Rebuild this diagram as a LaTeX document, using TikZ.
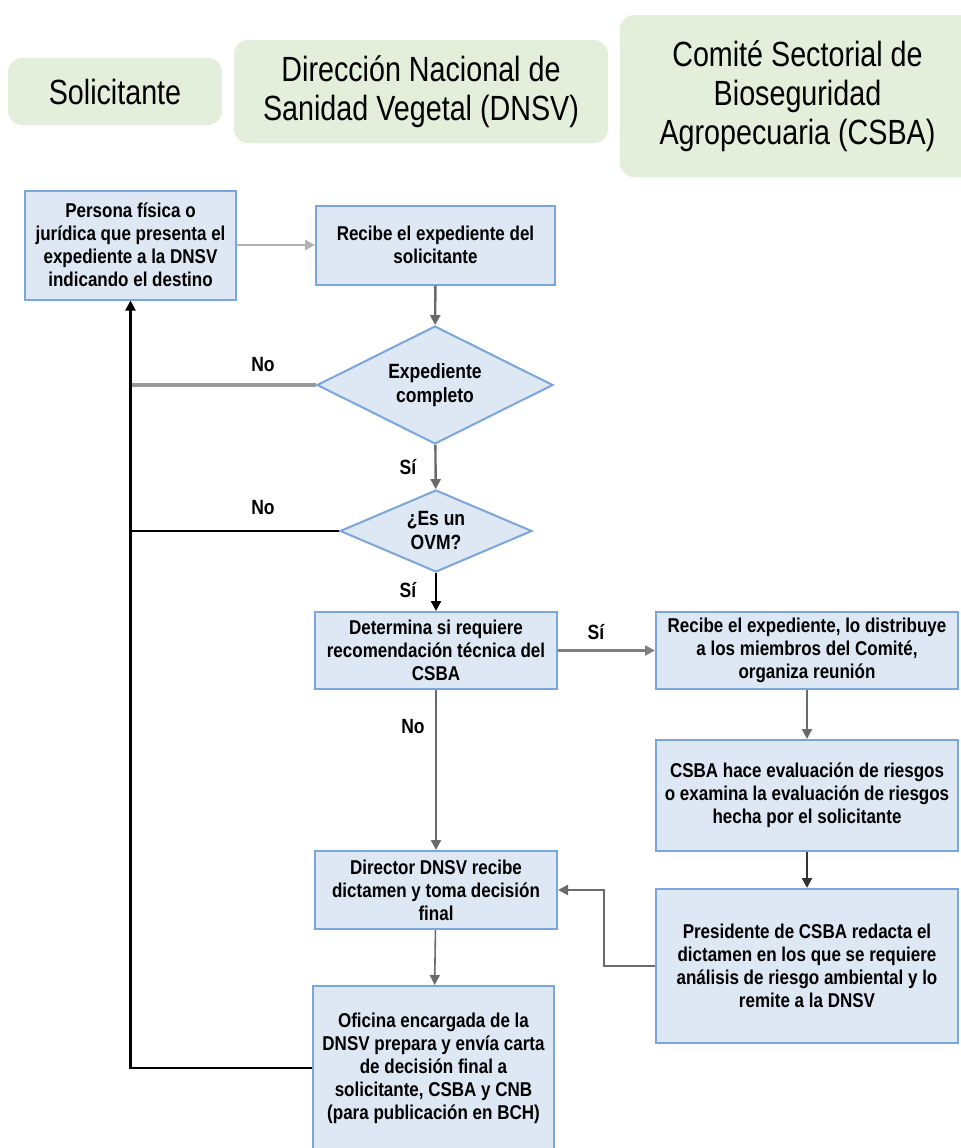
\documentclass[tikz,border=0pt]{standalone}
\usepackage{fontspec}
\setmainfont{Liberation Sans}[FakeStretch=0.82]
\newfontfamily\cajafont{Liberation Sans}[FakeStretch=0.85]
\usepackage{tikz}
\usepackage{xcolor}
\usetikzlibrary{shapes.geometric,arrows.meta,calc}

\definecolor{cajafondo}{HTML}{DDE8F4}
\definecolor{cajaborde}{HTML}{7AA6DA}
\definecolor{titfondo}{HTML}{E3EFDA}
\definecolor{lineagris}{HTML}{6A6A6A}

\tikzset{
  titulo/.style={fill=titfondo, rounded corners=7pt, align=center, inner sep=0pt,
    font=\fontsize{17.5}{19.5}\selectfont},
  etapa/.style={draw=cajaborde, line width=1pt, fill=cajafondo, align=center, inner sep=1pt,
    font=\cajafont\bfseries\fontsize{10}{11.5}\selectfont},
  decision/.style={diamond, aspect=2, draw=cajaborde, line width=1pt, fill=cajafondo,
    align=center, inner sep=0pt, font=\cajafont\bfseries\fontsize{10.3}{12}\selectfont},
  flecha/.style={draw=lineagris, line width=1.2pt, -{Triangle[length=5pt,width=5pt]}},
  retorno/.style={draw=black, line width=1.1pt},
  rama/.style={font=\cajafont\bfseries\fontsize{10.3}{12}\selectfont, inner sep=0pt}
}

\begin{document}
\begin{tikzpicture}[x=0.5pt, y=-0.5pt]
  \useasboundingbox (0,0) rectangle (961,1148);

  % encabezados
  \node[titulo, minimum width=107pt, minimum height=33.5pt] (tsol) at (115,91.5) {Solicitante};
  \node[titulo, minimum width=187pt, minimum height=51.5pt] (tdnsv) at (421,91.5)
    {Dirección Nacional de\\Sanidad Vegetal (DNSV)};
  \node[titulo, minimum width=177.5pt, minimum height=81pt] (tcsba) at (797.5,96)
    {Comité Sectorial de\\Bioseguridad\\Agropecuaria (CSBA)};

  % columna DNSV
  \node[etapa, minimum width=105.5pt, minimum height=54.5pt] (pers) at (130.5,245)
    {Persona física o\\jurídica que presenta el\\expediente a la DNSV\\indicando el destino};
  \node[etapa, minimum width=119.5pt, minimum height=39.5pt] (recibe) at (435.5,245)
    {Recibe el expediente del\\solicitante};
  \node[decision, minimum width=118pt, minimum height=59pt] (compl) at (435,385)
    {Expediente\\completo};
  \node[decision, minimum width=96pt, minimum height=41pt] (ovm) at (436,531)
    {¿Es un\\OVM?};
  \node[etapa, minimum width=121pt, minimum height=38.5pt] (determ) at (436,650.5)
    {Determina si requiere\\recomendación técnica del\\CSBA};
  \node[etapa, minimum width=121pt, minimum height=39pt] (director) at (436,890)
    {Director DNSV recibe\\dictamen y toma decisión\\final};
  \node[etapa, minimum width=120.5pt, minimum height=82pt] (oficina) at (433.5,1068)
    {Oficina encargada de la\\DNSV prepara y envía carta\\de decisión final a\\solicitante, CSBA y CNB\\(para publicación en BCH)};

  % columna CSBA
  \node[etapa, minimum width=151pt, minimum height=38.5pt] (distrib) at (807,650.5)
    {Recibe el expediente, lo distribuye\\a los miembros del Comité,\\organiza reunión};
  \node[etapa, minimum width=151pt, minimum height=55.5pt] (evalua) at (807,795.5)
    {CSBA hace evaluación de riesgos\\o examina la evaluación de riesgos\\hecha por el solicitante};
  \node[etapa, minimum width=151pt, minimum height=77pt] (presid) at (807,966)
    {Presidente de CSBA redacta el\\dictamen en los que se requiere\\análisis de riesgo ambiental y lo\\remite a la DNSV};

  % etiquetas
  \node[rama] (no1) at (263,365) {No};
  \node[rama] (no2) at (263,508) {No};
  \node[rama] (si1) at (408,467) {Sí};
  \node[rama] (si2) at (408,590) {Sí};
  \node[rama] (si3) at (596,632) {Sí};
  \node[rama] (no3) at (413,727) {No};

  % conectores
  \draw[flecha, draw=gray!60] (pers) -- (recibe);
  \draw[flecha] (recibe) -- (compl);
  \draw[flecha] (compl) -- (ovm);
  \draw[flecha, draw=black] (ovm) -- (determ);
  \draw[flecha, draw=gray] (determ) -- (distrib);
  \draw[flecha] (determ) -- (director);
  \draw[flecha] (distrib) -- (evalua);
  \draw[flecha, draw=black!80] (evalua) -- (presid);
  \draw[flecha] (presid.west) -- ++(-51,0) |- (director.east);
  \draw[flecha, line width=0.8pt] (director) -- (oficina);

  % regreso al solicitante
  \draw[retorno, draw=gray!80, line width=1.6pt] (compl.west) -- (compl.west -| pers.south);
  \draw[retorno] (ovm.west) -- (ovm.west -| pers.south);
  \draw[retorno, -{Triangle[length=5pt,width=5pt]}] (oficina.west) -| (pers.south);
\end{tikzpicture}
\end{document}
